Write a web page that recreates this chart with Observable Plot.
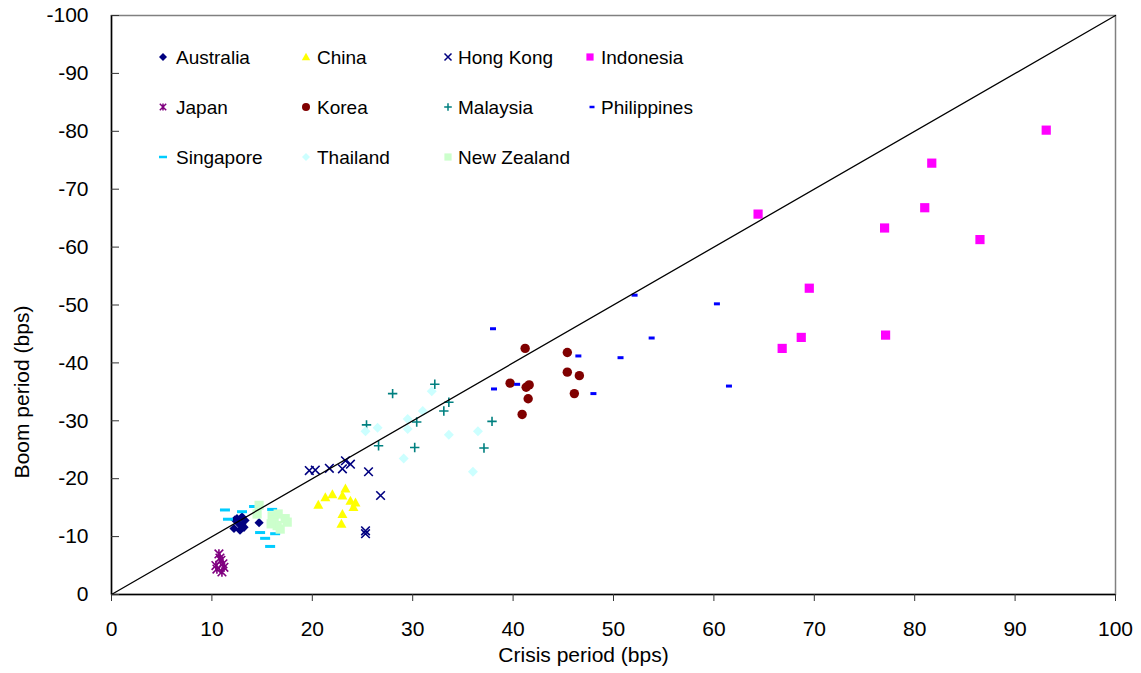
<!DOCTYPE html>
<html><head><meta charset="utf-8">
<script src="https://cdn.jsdelivr.net/npm/d3@7"></script>
<script src="https://cdn.jsdelivr.net/npm/@observablehq/plot@0.6"></script>
<style>
body{margin:0;background:#fff;font-family:"Liberation Sans",Arial,sans-serif}
#wrap{position:relative;width:1141px;height:673px}
</style></head>
<body><div id="wrap"></div>
<script>
// ---- data: [crisis period (bps), boom period (bps)] ----
const countries = ["Australia","China","Hong Kong","Indonesia","Japan","Korea","Malaysia","Philippines","Singapore","Thailand","New Zealand"];
const australia = [[12.5,-13.1],[13.0,-13.4],[13.3,-12.8],[12.2,-11.4],[12.8,-11.1],[13.2,-11.6],[14.7,-12.4],[12.7,-12.2],[12.3,-12.9],[13.0,-12.0]];
const china = [[20.6,-15.5],[21.3,-16.8],[22.0,-17.3],[23.0,-17.1],[23.3,-18.3],[23.8,-16.2],[24.3,-15.9],[24.1,-15.1],[23.0,-13.9],[22.9,-12.2]];
const hongKong = [[19.7,-21.4],[20.3,-21.5],[21.7,-21.8],[23.0,-21.7],[23.3,-23.1],[23.8,-22.5],[25.6,-21.2],[26.8,-17.1],[25.3,-10.5],[25.3,-11.0]];
const indonesia = [[93.1,-80.2],[81.7,-74.5],[81.0,-66.8],[64.4,-65.7],[77.0,-63.3],[86.5,-61.3],[69.5,-52.9],[77.1,-44.8],[68.7,-44.4],[66.8,-42.5]];
const japan = [[10.7,-7.0],[10.9,-5.9],[10.4,-5.0],[11.2,-4.7],[11.0,-3.9],[10.5,-4.4],[10.8,-6.3],[11.1,-5.3]];
const korea = [[41.2,-42.5],[45.4,-41.8],[45.4,-38.4],[46.6,-37.8],[39.7,-36.5],[41.6,-36.2],[41.3,-35.8],[41.5,-33.8],[46.1,-34.7],[40.9,-31.1]];
const malaysia = [[32.2,-36.3],[28.0,-34.7],[33.6,-33.2],[33.1,-31.7],[30.4,-29.8],[25.4,-29.3],[37.9,-29.9],[26.6,-25.7],[30.2,-25.4],[37.1,-25.3]];
const philippines = [[38.0,-45.9],[52.1,-51.7],[60.3,-50.2],[53.8,-44.3],[46.5,-41.2],[50.7,-40.9],[38.1,-35.5],[40.4,-36.3],[48.0,-34.7],[61.5,-36.0]];
const singapore = [[11.3,-14.6],[11.6,-13.0],[13.0,-14.3],[14.2,-15.2],[16.0,-14.7],[14.8,-10.7],[15.3,-9.7],[16.3,-10.5],[15.8,-8.3]];
const thailand = [[31.9,-35.1],[31.0,-31.7],[29.5,-30.3],[26.5,-28.8],[25.3,-28.2],[29.5,-28.6],[33.6,-27.6],[36.5,-28.2],[29.1,-23.5],[36.0,-21.2]];
const newZealand = [[14.7,-15.4],[14.5,-13.9],[16.0,-13.6],[17.3,-13.1],[16.5,-11.9],[16.8,-11.3],[16.2,-12.8],[17.5,-12.5],[16.6,-13.9],[15.9,-12.2]];
const seriesData = [australia,china,hongKong,indonesia,japan,korea,malaysia,philippines,singapore,thailand,newZealand];
const xTicks = [0,10,20,30,40,50,60,70,80,90,100];
const yTicks = [0,-10,-20,-30,-40,-50,-60,-70,-80,-90,-100];
const diagonal = [0,100];

// ---- marker styles ----
const sym = {
  diamond: s => ({draw(c){c.moveTo(0,-s);c.lineTo(s,0);c.lineTo(0,s);c.lineTo(-s,0);c.closePath();}}),
  triangle: s => ({draw(c){c.moveTo(0,-s);c.lineTo(s,s*0.8);c.lineTo(-s,s*0.8);c.closePath();}}),
  times: s => ({draw(c){c.moveTo(-s,-s);c.lineTo(s,s);c.moveTo(s,-s);c.lineTo(-s,s);}}),
  plus: s => ({draw(c){c.moveTo(-s,0);c.lineTo(s,0);c.moveTo(0,-s);c.lineTo(0,s);}}),
  asterisk: s => ({draw(c){c.moveTo(-s,-s);c.lineTo(s,s);c.moveTo(s,-s);c.lineTo(-s,s);c.moveTo(0,-s*1.1);c.lineTo(0,s*1.1);}}),
  square: s => ({draw(c){c.rect(-s,-s,2*s,2*s);}}),
  circle: s => ({draw(c){c.moveTo(s,0);c.arc(0,0,s,0,2*Math.PI);}}),
  dash: (w,h) => ({draw(c){c.rect(-w/2,-h/2,w,h);}})
};
const styles = [
  {color:"#000080", big:sym.diamond(4.6), small:sym.diamond(4),   stroke:false},
  {color:"#FFFF00", big:sym.triangle(5),  small:sym.triangle(4.2),stroke:false},
  {color:"#000080", big:sym.times(4.3),   small:sym.times(3.5),   stroke:true},
  {color:"#FF00FF", big:sym.square(4.6),  small:sym.square(3.6),  stroke:false},
  {color:"#800080", big:sym.asterisk(4.3),small:sym.asterisk(3.2),stroke:true},
  {color:"#800000", big:sym.circle(4.7),  small:sym.circle(4),    stroke:false},
  {color:"#008080", big:sym.plus(4.7),    small:sym.plus(3.8),    stroke:true},
  {color:"#0000FF", big:sym.dash(6,3),    small:sym.dash(5,2.5),  stroke:false},
  {color:"#00CCFF", big:sym.dash(10,3),   small:sym.dash(8,2.5),  stroke:false},
  {color:"#CCFFFF", big:sym.diamond(5),   small:sym.diamond(4),   stroke:false},
  {color:"#CCFFCC", big:sym.square(4.6),  small:sym.square(3.6),  stroke:false}
];

const table = countries.flatMap((name, i) => seriesData[i].map(([crisis, boom]) => ({name, crisis, boom})));

const dotMarks = countries.map((name, i) => {
  const st = styles[i];
  return Plot.dot(table.filter(d => d.name === name), {
    x: "crisis", y: "boom", symbol: st.big, r: 4,
    fill: st.stroke ? "none" : st.color,
    stroke: st.stroke ? st.color : "none",
    strokeWidth: st.stroke ? 1.6 : 0
  });
});

const chart = Plot.plot({
  width: 1141, height: 673,
  marginLeft: 111, marginRight: 26, marginTop: 15, marginBottom: 79,
  style: {fontFamily: '"Liberation Sans", Arial, sans-serif', fontSize: "21px", color: "#000", background: "#fff"},
  x: {domain: [0, 100]},
  y: {domain: [0, -100]},
  marks: [
    Plot.frame({stroke: "#808080", strokeWidth: 1.5}),
    ...dotMarks,
    Plot.line(diagonal, {x: d => d, y: d => -d, stroke: "#000", strokeWidth: 1.3}),
    Plot.ruleX([0], {stroke: "#000", strokeWidth: 1.5}),
    Plot.ruleY([0], {stroke: "#000", strokeWidth: 1.5}),
    Plot.axisX({ticks: xTicks, tickSize: 7, tickPadding: 20, tickFormat: d => String(d), label: null, stroke: "#333", fontSize: 21}),
    Plot.axisY({ticks: yTicks, tickSize: 0, tickPadding: 23, tickFormat: d => String(d), label: null, fontSize: 21}),
    Plot.axisY({ticks: yTicks, tickSize: 8, dx: 8, tickFormat: () => "", label: null, stroke: "#333"}),
    Plot.text(["Crisis period (bps)"], {text: d => d, frameAnchor: "bottom", dx: -30, dy: 61, lineAnchor: "middle", fontSize: 21}),
    Plot.text(["Boom period (bps)"], {text: d => d, frameAnchor: "left", rotate: -90, dx: -89, dy: 87, lineAnchor: "middle", textAnchor: "middle", fontSize: 21})
  ]
});
document.getElementById("wrap").appendChild(chart);

// ---- legend (inside plot area, top-left) ----
const svg = d3.select(chart);
const symX = [163, 306, 448, 590];
const textX = [176, 317, 458, 601];
const rowY = [57, 107, 157];
const lg = svg.append("g")
  .attr("font-family", '"Liberation Sans", Arial, sans-serif')
  .attr("font-size", 19)
  .attr("text-anchor", "start");
countries.forEach((name, i) => {
  const col = i % 4, row = Math.floor(i / 4), st = styles[i];
  const p = d3.path();
  st.small.draw(p);
  lg.append("path")
    .attr("transform", `translate(${symX[col] + (i === 7 ? 2 : 0)},${rowY[row]})`)
    .attr("d", p.toString())
    .attr("fill", st.stroke ? "none" : st.color)
    .attr("stroke", st.stroke ? st.color : "none")
    .attr("stroke-width", st.stroke ? 1.5 : 0);
  lg.append("text").attr("x", textX[col]).attr("y", rowY[row]).attr("dy", "0.36em")
    .attr("text-anchor", "start").attr("fill", "#000").text(name);
});
</script>
</body></html>
